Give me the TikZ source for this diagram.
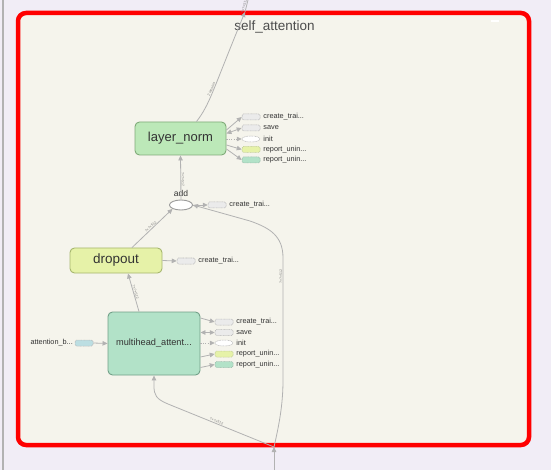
\documentclass[tikz,border=0pt]{standalone}
\usepackage{fontspec}
\setmainfont{Liberation Sans}
\usetikzlibrary{shapes.geometric,arrows.meta,calc}
\definecolor{outerbg}{HTML}{F1EDF6}
\definecolor{innerbg}{HTML}{F5F4EC}
\definecolor{redframe}{HTML}{FF0000}
\definecolor{edgegray}{HTML}{B2B2B2}
\definecolor{txt}{HTML}{333333}
\definecolor{lnfill}{HTML}{BCE8B8}
\definecolor{lnborder}{HTML}{7FAA78}
\definecolor{dropfill}{HTML}{E6F2A8}
\definecolor{dropborder}{HTML}{A6B66E}
\definecolor{mhafill}{HTML}{B2E2C8}
\definecolor{mhaborder}{HTML}{72A088}
\definecolor{auxgray}{HTML}{EBEBEB}
\definecolor{auxborder}{HTML}{B8B8B8}
\definecolor{bluefill}{HTML}{BCDEE2}
\begin{document}
\begin{tikzpicture}[x=1pt,y=-1pt,
  opbox/.style={draw, rounded corners=4.5pt, line width=0.9pt, inner sep=0pt, text=txt},
  edge/.style={draw=edgegray, line width=0.8pt, -{Triangle[length=5pt,width=4.5pt]}},
  bothedge/.style={draw=edgegray, line width=0.8pt, {Triangle[length=5pt,width=4.5pt]}-{Triangle[length=5pt,width=4.5pt]}},
  dotedge/.style={edge, dash pattern=on 1.2pt off 1.2pt},
  auxbox/.style={draw=auxborder, fill=auxgray, dash pattern=on 1pt off 0.6pt, line width=0.5pt, rounded corners=1.5pt, minimum width=18pt, minimum height=6pt, inner sep=0pt},
  auxell/.style={ellipse, draw=auxborder, fill=white, dash pattern=on 1pt off 0.6pt, line width=0.5pt, minimum width=18pt, minimum height=6pt, inner sep=0pt},
  lab/.style={font=\fontsize{7.3}{8}\selectfont, anchor=west, text=txt, inner sep=0pt},
  elab/.style={font=\fontsize{3.6}{4}\selectfont, text=gray, sloped, inner sep=0.5pt}
]
\useasboundingbox (0,0) rectangle (551,470);
\fill[outerbg] (0,0) rectangle (551,470);
\draw[line width=1.5pt, draw=black!30] (3,0) -- (3,470);
\draw[redframe, line width=4.5pt, fill=innerbg, rounded corners=8pt] (18,13) rectangle (529,445);
\fill[white] (491,20) rectangle (499,22);
\node[font=\fontsize{13.5}{15}\selectfont, text=black!70] (title) at (274.5,27) {self\_attention};

% main nodes
\node[opbox, fill=lnfill, draw=lnborder, minimum width=91pt, minimum height=33pt] (ln) at (180.5,138.5) {\fontsize{13}{15}\selectfont layer\_norm};
\node[ellipse, draw=black!40, fill=white, line width=0.9pt, minimum width=23pt, minimum height=10pt, inner sep=0pt] (add) at (181,205) {};
\node[font=\fontsize{8.5}{9}\selectfont, text=txt] (addlab) at (181,193.5) {add};
\node[opbox, fill=dropfill, draw=dropborder, minimum width=92pt, minimum height=25pt] (drop) at (116,260.5) {\fontsize{13.5}{15}\selectfont dropout};
\node[opbox, fill=mhafill, draw=mhaborder, minimum width=92pt, minimum height=63pt] (mha) at (154,343.5) {\fontsize{9.2}{10}\selectfont multihead\_attent...};

% input / output points
\coordinate (outp) at (245,12);
\coordinate (outtop) at (248,0);
\coordinate (inp) at (274,447);
\coordinate (inbot) at (274,470);

% attention bias
\node[auxbox, fill=bluefill, minimum width=18pt] (ab) at (84,343) {};
\node[lab, anchor=east] (abl) at (73,343) {attention\_b...};
\draw[edge] (ab.east) -- (mha.west);

% layer_norm aux
\node[auxbox] (lnc) at (251,117) {};
\node[auxbox] (lns) at (251,128) {};
\node[auxell] (lni) at (251,139) {};
\node[auxbox, fill=dropfill, draw=dropborder!70] (lnr1) at (251,149.5) {};
\node[auxbox, fill=mhafill, draw=mhaborder!70] (lnr2) at (251,160) {};
\node[lab] at ($(lnc.east)+(3,0)$) {create\_trai...};
\node[lab] at ($(lns.east)+(3,0)$) {save};
\node[lab] at ($(lni.east)+(3,0)$) {init};
\node[lab] at ($(lnr1.east)+(3,0)$) {report\_unin...};
\node[lab] at ($(lnr2.east)+(3,0)$) {report\_unin...};
\draw[edge] ($(ln.east)+(0,-8.5)$) -- (lnc.west);
\draw[bothedge] ($(ln.east)+(0,-5)$) -- (lns.west);
\draw[dotedge] ($(ln.east)+(0,0.5)$) -- (lni.west);
\draw[edge] ($(ln.east)+(0,6.5)$) -- (lnr1.west);
\draw[edge] ($(ln.east)+(0,10.5)$) -- (lnr2.west);

% add aux
\node[auxbox] (addc) at (217,205) {};
\node[lab] at ($(addc.east)+(3,0)$) {create\_trai...};
\draw[edge] (add.east) -- (addc.west);

% dropout aux
\node[auxbox] (dropc) at (186,261) {};
\node[lab] at ($(dropc.east)+(3,0)$) {create\_trai...};
\draw[edge] (drop.east) -- (dropc.west);

% multihead aux
\node[auxbox] (mhac) at (224,322) {};
\node[auxbox] (mhas) at (224,332.5) {};
\node[auxell] (mhai) at (224,343) {};
\node[auxbox, fill=dropfill, draw=dropborder!70] (mhar1) at (224,354) {};
\node[auxbox, fill=mhafill, draw=mhaborder!70] (mhar2) at (224,364.5) {};
\node[lab] at ($(mhac.east)+(3,0)$) {create\_trai...};
\node[lab] at ($(mhas.east)+(3,0)$) {save};
\node[lab] at ($(mhai.east)+(3,0)$) {init};
\node[lab] at ($(mhar1.east)+(3,0)$) {report\_unin...};
\node[lab] at ($(mhar2.east)+(3,0)$) {report\_unin...};
\draw[edge] ($(mha.east)+(0,-25.5)$) -- (mhac.west);
\draw[bothedge] ($(mha.east)+(0,-11)$) -- (mhas.west);
\draw[dotedge] ($(mha.east)+(0,-0.5)$) -- (mhai.west);
\draw[edge] ($(mha.east)+(0,13.5)$) -- (mhar1.west);
\draw[edge] ($(mha.east)+(0,24)$) -- (mhar2.west);

% main data edges
\draw[edge] ($(mha.north)+(-15,0)$) -- node[elab, above] {?×?×512} ($(drop.south)+(12,0)$);
\draw[edge] ($(drop.north)+(16,0)$) -- node[elab, above] {?×?×512} (add.south west);
\draw[edge] (add.north) -- node[elab, above, pos=0.45] {?×?×512} (ln.south);
\draw[edge] ($(ln.north)+(16,0)$) .. controls (210,104) and (212,92) .. node[elab, above, pos=0.5] {2 tensors} (outp);
\draw[draw=edgegray, line width=0.8pt] (outp) -- node[elab, above, pos=0.45] {?×?×512} (outtop);
\draw[edge] (inbot) -- (inp);
\draw[edge] (inp) -- node[elab, above, pos=0.55] {?×?×512} (168,404) .. controls (156,399) and (154,395) .. (154,386) -- (mha.south);
\draw[edge] (inp) .. controls (279,425) and (283,405) .. (283,380) -- node[elab, above, pos=0.85] {?×?×512} (283,258) .. controls (283,236) and (270,228) .. (250,221) -- (add.east);
\end{tikzpicture}
\end{document}
